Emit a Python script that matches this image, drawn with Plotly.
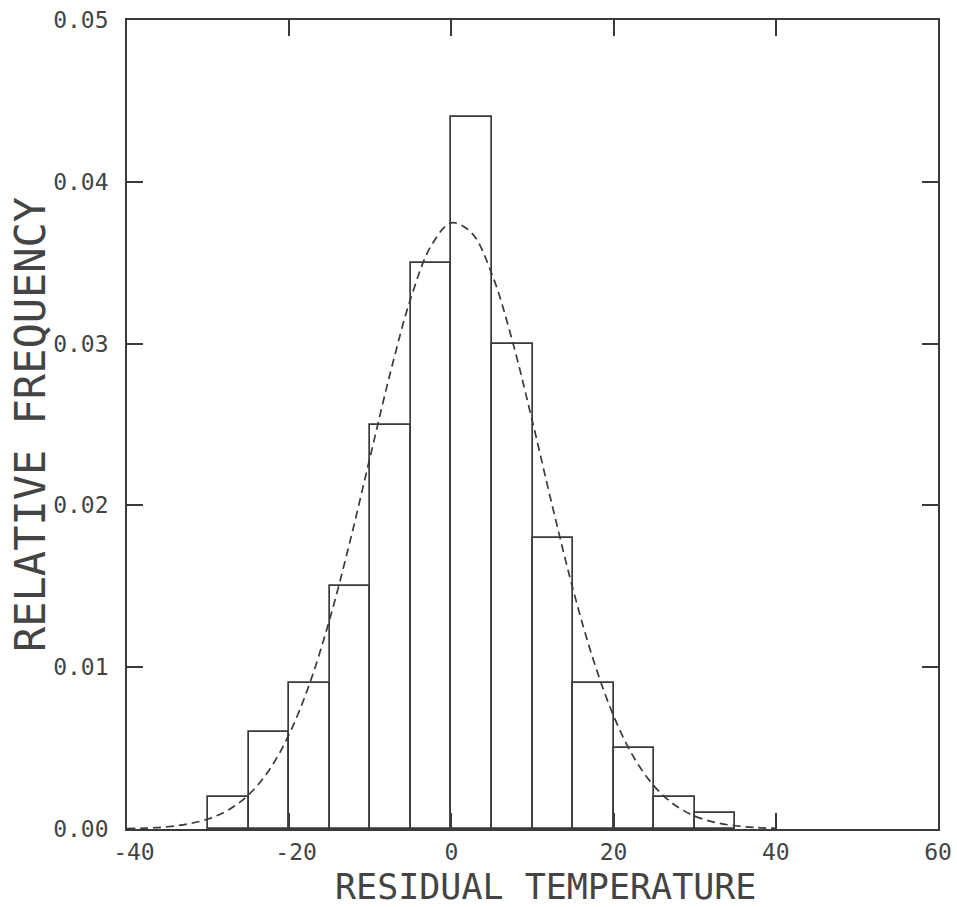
import plotly.graph_objects as go

# Histogram bins (left edges) and relative frequencies
bin_left = [-30, -25, -20, -15, -10, -5, 0, 5, 10, 15, 20, 25, 30]
bin_width = 5
rel_freq = [0.002, 0.006, 0.009, 0.015, 0.025, 0.035, 0.044, 0.030, 0.018, 0.009, 0.005, 0.002, 0.001]

# Fitted curve
curve_x = [-40, -37.5, -35, -32.5, -30, -27.5, -25, -22.5, -20, -17.5, -15, -12.5, -10, -7.5, -5, -2.5,
           0, 2.5, 5, 7.5, 10, 12.5, 15, 17.5, 20, 22.5, 25, 27.5, 30, 32.5, 35, 37.5, 40]
curve_y = [0.00003, 0.00006, 0.00014, 0.00031, 0.00062, 0.00118, 0.00212, 0.00362, 0.00586, 0.00896,
           0.01298, 0.01778, 0.02304, 0.02826, 0.03281, 0.03604, 0.03746, 0.03684, 0.03429, 0.03020,
           0.02517, 0.01985, 0.01481, 0.01046, 0.00699, 0.00442, 0.00265, 0.00150, 0.00080, 0.00041,
           0.00020, 0.00009, 0.00004]

x_ticks = [-40, -20, 0, 20, 40, 60]
x_tick_text = ["\u00a0-40", "\u00a0-20", "0", "20", "40", "60"]
y_ticks = [0.00, 0.01, 0.02, 0.03, 0.04, 0.05]
y_tick_text = ["0.00", "0.01", "0.02", "0.03", "0.04", "0.05"]
x_title = "RESIDUAL TEMPERATURE"
y_title = "RELATIVE FREQUENCY"

ink = "#3a3a3a"
txt = "#444"
font = "DejaVu Sans Mono"

fig = go.Figure()
fig.add_trace(go.Bar(
    x=[b + bin_width / 2 for b in bin_left],
    y=rel_freq,
    width=bin_width,
    marker=dict(color="white", line=dict(color=ink, width=1.7)),
    showlegend=False,
))
fig.add_trace(go.Scatter(
    x=curve_x, y=curve_y, mode="lines",
    line=dict(color=ink, width=1.7, dash="8px,5px", shape="spline"),
    showlegend=False,
))

axis_common = dict(
    showline=True, linecolor=ink, linewidth=1.7, mirror="ticks",
    ticks="inside", ticklen=16, tickwidth=1.7, tickcolor=ink,
    showgrid=False, zeroline=False, automargin=False,
    tickfont=dict(family=font, size=23, color=txt),
)

fig.update_layout(
    width=957, height=907,
    margin=dict(l=127, r=19, t=20, b=78),
    paper_bgcolor="white", plot_bgcolor="white",
    bargap=0,
    xaxis=dict(range=[-40, 60], tickvals=x_ticks, ticktext=x_tick_text, ticklabelstandoff=2,
               **axis_common),
    yaxis=dict(range=[0, 0.05], tickvals=y_ticks, ticktext=y_tick_text, ticklabelstandoff=12,
               **axis_common),
    annotations=[
        dict(text=x_title, xref="paper", yref="paper", x=0.5, y=0, xanchor="center", yanchor="top",
             xshift=13, yshift=-37, borderpad=0, showarrow=False,
             font=dict(family=font, size=35, color=txt)),
        dict(text=y_title, xref="paper", yref="paper", x=0, y=0.5, xanchor="right", yanchor="middle",
             xshift=-70, textangle=-90, showarrow=False, font=dict(family=font, size=42, color=txt)),
    ],
)

fig.write_html("out.html", config={"displayModeBar": False},
               post_script="document.body.style.margin='0px';document.body.style.overflow='hidden';")
